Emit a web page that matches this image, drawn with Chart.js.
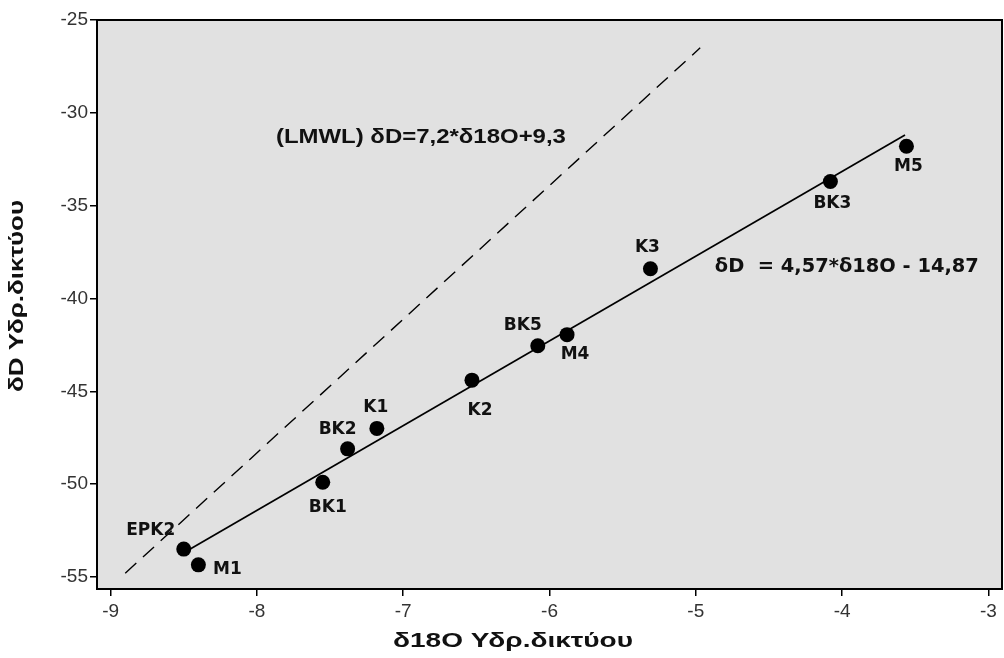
<!DOCTYPE html>
<html>
<head>
<meta charset="utf-8">
<script src="https://cdn.jsdelivr.net/npm/chart.js@4/dist/chart.umd.min.js"></script>
<style>
  html, body { margin: 0; padding: 0; background: #ffffff; }
</style>
</head>
<body>
<canvas id="isoChart" width="1004" height="658"></canvas>
<script>
// Samples (δ18O vs δD of the water network)
const sampleNames = ['EPK2', 'M1', 'BK1', 'BK2', 'K1', 'K2', 'BK5', 'M4', 'K3', 'BK3', 'M5'];
const d18O = [-8.50, -8.40, -7.55, -7.38, -7.18, -6.53, -6.08, -5.88, -5.31, -4.08, -3.56];
const dD   = [-53.5, -54.35, -49.9, -48.1, -47.0, -44.4, -42.55, -41.95, -38.4, -33.7, -31.8];

// Regression line end points and local meteoric water line (dashed)
const fitX  = [-8.50, -3.57];
const fitY  = [-53.7, -31.2];
const lmwlX = [-8.90, -4.97];
const lmwlY = [-54.8, -26.5];

// Axis ticks
const xTicks = [-9, -8, -7, -6, -5, -4, -3];
const yTicks = [-55, -50, -45, -40, -35, -30, -25];

// Axis titles
const xTitle = 'δ18O Υδρ.δικτύου';
const yTitle = 'δD Υδρ.δικτύου';

// Equation texts, anchored in data units (left edge, middle)
const eqTexts = ['(LMWL) δD=7,2*δ18O+9,3', 'δD  = 4,57*δ18O - 14,87'];
const eqX = [-7.87, -4.87];
const eqY = [-31.3, -38.3];

// label offsets in px from each point (dx, dy of text centre)
const labelOffsets = [[-33, -19], [29, 5], [5, 25], [-10, -19], [-1, -21], [8, 30],
                      [-15, -20], [8, 20], [-3, -21], [2, 22], [2, 20]];

// draw text squeezed/stretched horizontally to a given width
function drawFitted(ctx, text, x, y, width) {
    const w = ctx.measureText(text).width;
    ctx.save();
    ctx.translate(x, y);
    ctx.scale(width / w, 1);
    ctx.fillText(text, 0, 0);
    ctx.restore();
}

const plotFrame = {
    id: 'plotFrame',
    beforeDatasetsDraw(chart) {
        const { ctx, chartArea: a } = chart;
        ctx.save();
        ctx.fillStyle = '#e1e1e1';
        ctx.fillRect(a.left, a.top, a.right - a.left, a.bottom - a.top);
        ctx.restore();
    },
    afterDatasetsDraw(chart) {
        const { ctx, chartArea: a, scales } = chart;
        ctx.save();
        // frame
        ctx.strokeStyle = '#000';
        ctx.lineWidth = 2;
        ctx.strokeRect(a.left, a.top, a.right - a.left, a.bottom - a.top);

        // point labels
        const meta = chart.getDatasetMeta(0);
        ctx.fillStyle = '#111';
        ctx.font = 'bold 17px "DejaVu Sans"';
        ctx.textAlign = 'center';
        ctx.textBaseline = 'middle';
        meta.data.forEach(function(pt, i) {
            const off = labelOffsets[i];
            ctx.fillText(sampleNames[i], pt.x + off[0], pt.y + off[1]);
        });

        // equations
        ctx.textAlign = 'left';
        ctx.font = 'bold 21px "Liberation Sans"';
        drawFitted(ctx, eqTexts[0], scales.x.getPixelForValue(eqX[0]), scales.y.getPixelForValue(eqY[0]), 290);
        ctx.font = 'bold 19px "DejaVu Sans"';
        drawFitted(ctx, eqTexts[1], scales.x.getPixelForValue(eqX[1]), scales.y.getPixelForValue(eqY[1]), 264);

        // axis titles
        ctx.font = 'bold 21px "Liberation Sans"';
        ctx.textAlign = 'left';
        drawFitted(ctx, xTitle, 393, 641, 240);
        ctx.translate(17, 296);
        ctx.rotate(-Math.PI / 2);
        drawFitted(ctx, yTitle, -96, 0, 192);
        ctx.restore();
    }
};

const tickFont = { family: '"Liberation Sans", sans-serif', size: 19 };

const ctx = document.getElementById('isoChart').getContext('2d');
new Chart(ctx, {
    type: 'scatter',
    data: {
        datasets: [
            {
                label: 'samples',
                data: d18O.map((x, i) => ({ x: x, y: dD[i] })),
                backgroundColor: '#000',
                borderWidth: 0,
                pointRadius: 7.5,
                order: 0
            },
            {
                label: 'fit',
                data: fitX.map((x, i) => ({ x: x, y: fitY[i] })),
                showLine: true,
                borderColor: '#000',
                borderWidth: 1.7,
                pointRadius: 0,
                order: 1
            },
            {
                label: 'LMWL',
                data: lmwlX.map((x, i) => ({ x: x, y: lmwlY[i] })),
                showLine: true,
                borderColor: '#000',
                borderWidth: 1.4,
                borderDash: [15, 9],
                pointRadius: 0,
                order: 2
            }
        ]
    },
    options: {
        responsive: false,
        devicePixelRatio: 1,
        animation: false,
        layout: { autoPadding: false, padding: { top: 20, right: 2, left: 0, bottom: 0 } },
        plugins: {
            legend: { display: false },
            tooltip: { enabled: false }
        },
        scales: {
            x: {
                type: 'linear',
                min: -9.093,
                max: -2.907,
                afterBuildTicks: function(scale) {
                    scale.ticks = xTicks.map(v => ({ value: v }));
                },
                afterFit: function(scale) { scale.height = 69; },
                ticks: { font: tickFont, color: '#333', padding: 4, maxRotation: 0 },
                grid: { drawOnChartArea: false, drawTicks: true, tickLength: 7, color: '#000', lineWidth: 1.5 },
                border: { display: false }
            },
            y: {
                type: 'linear',
                min: -55.65,
                max: -25,
                afterBuildTicks: function(scale) {
                    scale.ticks = yTicks.map(v => ({ value: v }));
                },
                afterFit: function(scale) { scale.width = 97; },
                ticks: { font: tickFont, color: '#333', padding: 2 },
                grid: { drawOnChartArea: false, drawTicks: true, tickLength: 7, color: '#000', lineWidth: 1.5 },
                border: { display: false }
            }
        }
    },
    plugins: [plotFrame]
});
</script>
</body>
</html>
